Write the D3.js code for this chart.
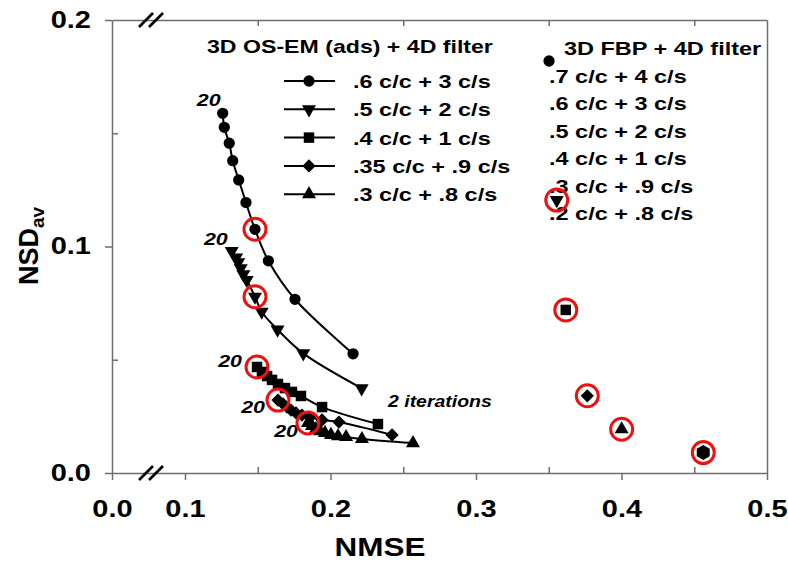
<!DOCTYPE html>
<html><head><meta charset="utf-8">
<script src="https://cdn.jsdelivr.net/npm/d3@7"></script>
<style>
body{margin:0;background:#fff}
text{font-family:Arial,"Liberation Sans",Helvetica,sans-serif;font-weight:bold;fill:#000}
</style>
</head><body>
<svg id="c" width="788" height="566"></svg>
<script>
// ---------- data ----------
const xTickValues = [0, 0.1, 0.2, 0.3, 0.4, 0.5];
const xMinorTicks = [0.15, 0.25, 0.35, 0.45];
const yTickValues = [0, 0.1, 0.2];
const yMinorTicks = [0.05, 0.15];

const osemLabels = [".6 c/c + 3 c/s", ".5 c/c + 2 c/s", ".4 c/c + 1 c/s", ".35 c/c + .9 c/s", ".3 c/c + .8 c/s"];
const osemSymbols = ["circle", "triangleDown", "square", "diamond", "triangleUp"];

// OS-EM curves, ordered from iteration 20 down to 2
const osemCircleNMSE = [0.1259, 0.1270, 0.1304, 0.1328, 0.1369, 0.1419, 0.1481, 0.1573, 0.1756, 0.2155];
const osemCircleNSD  = [0.1588, 0.1526, 0.1456, 0.1379, 0.1294, 0.1194, 0.1076, 0.0937, 0.0767, 0.0526];
const osemTriDownNMSE = [0.1321, 0.1351, 0.1366, 0.1383, 0.1401, 0.1424, 0.1481, 0.1527, 0.1636, 0.1813, 0.2214];
const osemTriDownNSD  = [0.0980, 0.0951, 0.0930, 0.0904, 0.0877, 0.0852, 0.0778, 0.0712, 0.0633, 0.0528, 0.0374];
const osemSquareNMSE = [0.1495, 0.1529, 0.1564, 0.1598, 0.1639, 0.1687, 0.1735, 0.1797, 0.1942, 0.2326];
const osemSquareNSD  = [0.0468, 0.0446, 0.0428, 0.0411, 0.0393, 0.0375, 0.0358, 0.0340, 0.0291, 0.0216];
const osemDiamondNMSE = [0.1639, 0.1674, 0.1701, 0.1729, 0.1763, 0.1804, 0.1859, 0.1942, 0.2058, 0.2423];
const osemDiamondNSD  = [0.0322, 0.0305, 0.0291, 0.0278, 0.0265, 0.0256, 0.0247, 0.0234, 0.0225, 0.0168];
const osemTriUpNMSE = [0.1845, 0.1873, 0.1900, 0.1928, 0.1962, 0.2003, 0.2052, 0.2107, 0.2216, 0.2567];
const osemTriUpNSD  = [0.0221, 0.0208, 0.0194, 0.0185, 0.0177, 0.0168, 0.0163, 0.0159, 0.0150, 0.0132];
const osemCircledIndex = [6, 6, 0, 0, 0];
const iterationStartLabel = "20";

const fbpLabels = [".7 c/c + 4 c/s", ".6 c/c + 3 c/s", ".5 c/c + 2 c/s", ".4 c/c + 1 c/s", ".3 c/c + .9 c/s", ".2 c/c + .8 c/s"];
const fbpNMSE = [0.3502, 0.3555, 0.3617, 0.3765, 0.4001, 0.4562];
const fbpNSD  = [0.1819, 0.1205, 0.0720, 0.0341, 0.0193, 0.0090];
const fbpSymbols = ["circle", "triangleDown", "square", "diamond", "triangleUp", "hexagon"];
const fbpCircled = [false, true, true, true, true, true];

// ---------- layout ----------
const W = 788, H = 566;
const svg = d3.select("#c");
svg.append("rect").attr("width", W).attr("height", H).attr("fill", "#fff");
const x = d3.scaleLinear().domain([0, 0.1, 0.5]).range([112, 185, 767]);
const y = d3.scaleLinear().domain([0, 0.2]).range([473, 20]);
const axisColor = "#6e6e6e";
const SX = 1.26; // horizontal text stretch of the original

function styleAxis(g) {
  g.selectAll("path,line").attr("stroke", axisColor).attr("stroke-width", 1.5);
}

// bottom axis
const gx = svg.append("g").attr("transform", `translate(0,${y(0)})`)
  .call(d3.axisBottom(x).tickValues(xTickValues).tickFormat(d3.format(".1f")).tickSizeInner(7).tickSizeOuter(0).tickPadding(21));
styleAxis(gx);
gx.selectAll("text").attr("font-size", 23).attr("font-family", null).attr("transform", `scale(${SX},1)`);
svg.append("g").attr("transform", `translate(0,${y(0)})`)
  .call(d3.axisBottom(x).tickValues(xMinorTicks).tickFormat("").tickSizeInner(-6).tickSizeOuter(0))
  .call(g => g.select(".domain").remove()).call(styleAxis);
// top axis (minor ticks inside)
svg.append("g").attr("transform", `translate(0,${y(0.2)})`)
  .call(d3.axisTop(x).tickValues(xMinorTicks).tickFormat("").tickSizeInner(-6).tickSizeOuter(0))
  .call(styleAxis);
// left axis
const gy = svg.append("g").attr("transform", `translate(${x(0)},0)`)
  .call(d3.axisLeft(y).tickValues(yTickValues).tickFormat(d3.format(".1f")).tickSizeInner(7).tickSizeOuter(0).tickPadding(14));
styleAxis(gy);
gy.selectAll("text").attr("font-size", 23).attr("font-family", null)
  .attr("x", 0).attr("transform", `translate(-21,0) scale(${SX},1)`);
svg.append("g").attr("transform", `translate(${x(0)},0)`)
  .call(d3.axisLeft(y).tickValues(yMinorTicks).tickFormat("").tickSizeInner(-6).tickSizeOuter(0))
  .call(g => g.select(".domain").remove()).call(styleAxis);
// right axis
svg.append("g").attr("transform", `translate(${x(0.5)},0)`)
  .call(d3.axisRight(y).tickValues([]).tickSizeOuter(0)).call(styleAxis);

// axis break marks
[y(0), y(0.2)].forEach(yy => {
  [-5, 5].forEach(dx => {
    svg.append("line").attr("x1", 151 + dx - 7).attr("y1", yy + 7)
      .attr("x2", 151 + dx + 7).attr("y2", yy - 7)
      .attr("stroke", "#000").attr("stroke-width", 2.6);
  });
});

// axis titles
svg.append("text").attr("text-anchor", "middle").attr("font-size", 25)
  .attr("transform", `translate(380,556) scale(${SX},1)`).text("NMSE");
const yl = svg.append("text").attr("text-anchor", "middle").attr("font-size", 27)
  .attr("transform", `translate(38,246) rotate(-90)`);
yl.append("tspan").text("NSD");
yl.append("tspan").attr("font-size", 19).attr("dy", 6).text("av");

// ---------- symbols ----------
function symbolPath(name) {
  switch (name) {
    case "circle": return d3.symbol().type(d3.symbolCircle).size(100)();
    case "triangleDown":
    case "triangleUp": return d3.symbol().type(d3.symbolTriangle).size(85)();
    case "square": return d3.symbol().type(d3.symbolSquare).size(110)();
    case "diamond": return d3.symbol().type(d3.symbolSquare).size(88)();
    case "hexagon": {
      const p = d3.path(), r = 7.5;
      d3.range(6).forEach(i => {
        const a = -Math.PI / 2 + i * Math.PI / 3;
        if (i === 0) p.moveTo(r * Math.cos(a), r * Math.sin(a)); else p.lineTo(r * Math.cos(a), r * Math.sin(a));
      });
      p.closePath(); return p.toString();
    }
  }
}
function symbolRotate(name) {
  return name === "triangleDown" ? " rotate(180)" : name === "diamond" ? " rotate(45)" : "";
}
function drawSymbol(g, name, px, py) {
  g.append("path").attr("d", symbolPath(name))
    .attr("transform", `translate(${px},${py})` + symbolRotate(name))
    .attr("fill", "#000");
}
function redRing(px, py) {
  svg.append("circle").attr("cx", px).attr("cy", py).attr("r", 11)
    .attr("fill", "none").attr("stroke", "#ee1111").attr("stroke-width", 3);
}

// ---------- OS-EM curves ----------
const osemSeries = [
  [osemCircleNMSE, osemCircleNSD],
  [osemTriDownNMSE, osemTriDownNSD],
  [osemSquareNMSE, osemSquareNSD],
  [osemDiamondNMSE, osemDiamondNSD],
  [osemTriUpNMSE, osemTriUpNSD]
];
const startLabelOffsets = [[-2, -7], [-4, -6], [-15, 0], [-13, 13], [-10, 14]];
const line = d3.line().x(d => x(d[0])).y(d => y(d[1])).curve(d3.curveCatmullRom.alpha(0.5));
const curveG = svg.append("g");
const markG = svg.append("g");
osemSeries.forEach(([xs, ys], si) => {
  const pts = xs.map((v, i) => [v, ys[i]]);
  curveG.append("path").attr("d", line(pts)).attr("fill", "none").attr("stroke", "#000").attr("stroke-width", 2);
  pts.forEach(p => drawSymbol(markG, osemSymbols[si], x(p[0]), y(p[1])));
});
osemSeries.forEach(([xs, ys], si) => {
  const i = osemCircledIndex[si];
  redRing(x(xs[i]), y(ys[i]));
  const o = startLabelOffsets[si];
  svg.append("text").attr("text-anchor", "end").attr("font-size", 17).attr("font-style", "italic")
    .attr("transform", `translate(${x(xs[0]) + o[0]},${y(ys[0]) + o[1]}) scale(${SX},1)`)
    .text(iterationStartLabel);
});
svg.append("text").attr("font-size", 16.5).attr("font-style", "italic")
  .attr("transform", `translate(388,407) scale(1.18,1)`).text("2 iterations");

// ---------- FBP points ----------
fbpNMSE.forEach((v, i) => {
  drawSymbol(markG, fbpSymbols[i], x(v), y(fbpNSD[i]));
  if (fbpCircled[i]) redRing(x(v), y(fbpNSD[i]));
});

// ---------- legends ----------
const lg = svg.append("g");
lg.append("text").attr("font-size", 18.5).attr("transform", `translate(207,53) scale(1.25,1)`)
  .text("3D OS-EM (ads) + 4D filter");
osemLabels.forEach((t, i) => {
  const yy = 81 + i * 28.3;
  lg.append("line").attr("x1", 284).attr("x2", 335).attr("y1", yy).attr("y2", yy)
    .attr("stroke", "#000").attr("stroke-width", 2);
  drawSymbol(lg, osemSymbols[i], 309, yy);
  lg.append("text").attr("font-size", 18.5).attr("transform", `translate(353,${yy + 7}) scale(1.27,1)`).text(t);
});
lg.append("text").attr("font-size", 18.5).attr("transform", `translate(564,55) scale(1.27,1)`)
  .text("3D FBP + 4D filter");
fbpLabels.forEach((t, i) => {
  lg.append("text").attr("font-size", 18.5)
    .attr("transform", `translate(549,${83 + i * 27.4}) scale(1.27,1)`).text(t);
});
// FBP markers drawn on top of legend text like the original
svg.node().appendChild(markG.node());
svg.selectAll("circle").raise();
</script>
</body></html>
